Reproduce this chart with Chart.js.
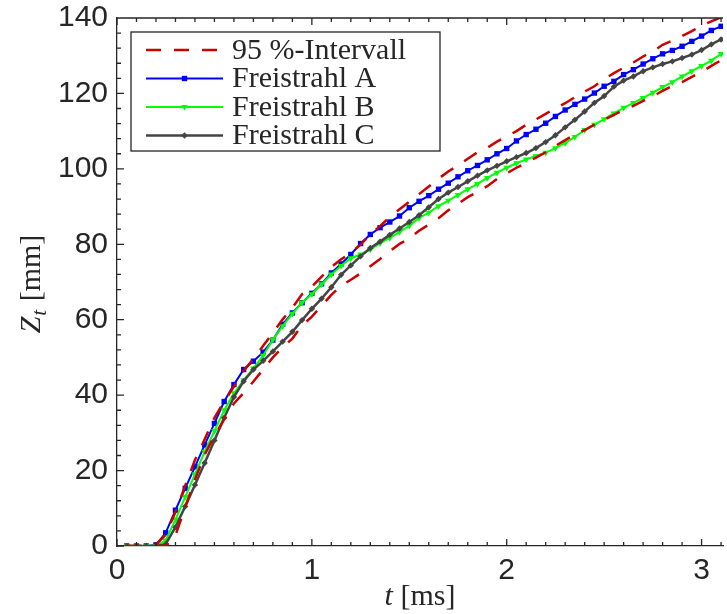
<!DOCTYPE html>
<html>
<head>
<meta charset="utf-8">
<script src="https://cdn.jsdelivr.net/npm/chart.js@4.4.1/dist/chart.umd.min.js"></script>
<style>
  html, body { margin: 0; padding: 0; background: #fff; }
  #wrap { width: 727px; height: 614px; }
</style>
</head>
<body>
<div id="wrap"><canvas id="chart"></canvas></div>
<script>
// time axis in ms
const times = [
  0.05, 0.10, 0.15, 0.20, 0.25, 0.30, 0.35, 0.40, 0.45, 0.50,
  0.55, 0.60, 0.65, 0.70, 0.75, 0.80, 0.85, 0.90, 0.95, 1.00,
  1.05, 1.10, 1.15, 1.20, 1.25, 1.30, 1.35, 1.40, 1.45, 1.50,
  1.55, 1.60, 1.65, 1.70, 1.75, 1.80, 1.85, 1.90, 1.95, 2.00,
  2.05, 2.10, 2.15, 2.20, 2.25, 2.30, 2.35, 2.40, 2.45, 2.50,
  2.55, 2.60, 2.65, 2.70, 2.75, 2.80, 2.85, 2.90, 2.95, 3.00,
  3.05, 3.10, 3.15
]

// penetration depth Z_t in mm
const freistrahlA = [
  0, 0, 0, 0.3, 3.5, 9.5, 15.3, 21, 26.8, 32.5,
  38.3, 42.8, 46.8, 49, 51.4, 54.6, 58.8, 61.8, 64.5, 67,
  69.5, 72.4, 74.8, 77.3, 80.2, 82.6, 84.4, 85.9, 87.5, 89.7,
  91.4, 92.9, 94.6, 96.2, 97.9, 99.5, 100.9, 102.4, 104, 105.4,
  107.4, 109.1, 110.5, 112.1, 113.9, 115.6, 117.1, 118.5, 120.1, 121.9,
  123.2, 125, 126.3, 127.8, 129.2, 130.5, 131.4, 132.5, 133.8, 135.2,
  136.7, 137.8, 139
]
const freistrahlB = [
  0, 0, 0, 0, 1.5, 7, 13, 19, 25, 30.5,
  36, 40.5, 44, 47.1, 50.5, 54.7, 58.3, 61.6, 64.6, 66.8,
  69.4, 72, 74.3, 76.3, 77.3, 78.6, 80.3, 81.7, 83.3, 84.9,
  87, 88.4, 90.1, 91.6, 93.1, 94.6, 96, 97.6, 99, 100.3,
  101.5, 102.5, 103.4, 104.3, 105.5, 106.9, 108.5, 110.3, 111.7, 113.2,
  114.7, 116.2, 117.5, 118.8, 120.2, 121.7, 123, 124.5, 125.9, 127.3,
  128.7, 130.5, 132
]
const freistrahlC = [
  0, 0, 0, 0, 0.5, 5, 10.5, 16.2, 22, 28,
  34, 39.5, 43.7, 46.8, 49.1, 51.6, 54.2, 56.8, 59.9, 62.9,
  65.6, 68.6, 71.9, 74.4, 76.8, 79, 80.7, 82.5, 84.2, 85.9,
  87.7, 89.8, 92, 93.7, 95.2, 96.7, 98.2, 99.6, 100.8, 102,
  103.1, 104.2, 105.5, 107.1, 108.9, 111, 113, 115.2, 117.5, 119.3,
  121.8, 123.4, 124.5, 125.9, 126.9, 127.8, 128.5, 129.4, 130.3, 131.5,
  133, 134.3, 135.5
]
const intervalUpper = [
  0, 0, 0, 0.3, 3, 9, 16, 22.8, 28.3, 34,
  38.3, 42.3, 46.5, 49.6, 53.1, 56.5, 60.1, 63.2, 66.8, 68.8,
  71.4, 74, 76, 77.7, 79.9, 82.6, 84.8, 87.2, 89.3, 91.3,
  93.3, 95.3, 97.4, 99.3, 100.9, 102.7, 104.4, 105.6, 107.2, 108.6,
  110, 111.7, 113.1, 114.6, 116.1, 117.4, 119, 120.5, 121.9, 123.8,
  125.4, 126.8, 128.2, 129.8, 131.1, 132.9, 134, 135.2, 136.5, 138,
  139.1, 140.2, 141.3
]
const intervalLower = [
  0, 0, 0, 0, 0, 2.8, 10.3, 17.6, 24.2, 29.2,
  33.6, 37.8, 40.6, 43.6, 46.8, 50, 52.7, 55, 58.5, 60.8,
  63.7, 66.6, 69, 70.6, 72.3, 74.2, 76.1, 78.2, 80.1, 81.5,
  83.6, 85.2, 86.9, 89, 90.7, 92.5, 93.9, 95.4, 97.3, 98.8,
  100.3, 101.6, 103, 104.4, 106.1, 107.6, 109.1, 110.3, 111.7, 113,
  114.3, 115.6, 116.7, 118, 119.2, 120.7, 122, 123, 124.4, 125.7,
  127.3, 128.8, 130.2
]

const legendLabels = ['95 %-Intervall', 'Freistrahl A', 'Freistrahl B', 'Freistrahl C']
const xMin = 0, xMax = 3.11, xStep = 1, xMinor = 0.1
const yMin = 0, yMax = 140, yStep = 20, yMinor = 4

const axisColor = '#262626'
const sansFont = '"Liberation Sans", Arial, sans-serif'
const serifFont = '"Liberation Serif", "Times New Roman", serif'

const pts = (vals) => times.map((t, i) => ({ x: t, y: vals[i] }))

const redStyle = {
  borderColor: '#cc0000',
  borderWidth: 2.5,
  borderDash: [15, 13],
  pointRadius: 0,
  order: 0
}

const datasets = [
  { label: legendLabels[0], data: pts(intervalUpper), ...redStyle },
  { label: legendLabels[0] + ' ', data: pts(intervalLower), ...redStyle },
  {
    label: legendLabels[1], data: pts(freistrahlA),
    borderColor: '#0000ff', backgroundColor: '#0000ff', borderWidth: 2,
    pointStyle: 'rect', pointRadius: 3.8, pointBorderWidth: 0, order: 3
  },
  {
    label: legendLabels[2], data: pts(freistrahlB),
    borderColor: '#00ff00', backgroundColor: '#00ff00', borderWidth: 2,
    pointStyle: 'triangle', pointRotation: 180, pointRadius: 3.8, pointBorderWidth: 0, order: 2
  },
  {
    label: legendLabels[3], data: pts(freistrahlC),
    borderColor: '#444444', backgroundColor: '#444444', borderWidth: 2.5,
    pointStyle: 'rectRot', pointRadius: 3.2, pointBorderWidth: 0, order: 1
  }
]

// inward ticks, top frame line, boxed legend
const frame = {
  id: 'frame',
  afterDatasetsDraw(chart) {
    const { ctx, chartArea: a, scales: { x, y } } = chart
    ctx.save()
    ctx.strokeStyle = axisColor
    ctx.lineWidth = 1.3
    ctx.beginPath()
    ctx.moveTo(a.left, a.top)
    ctx.lineTo(a.right, a.top)
    for (let i = 0; i * xMinor <= xMax + 1e-9; i++) {
      const px = x.getPixelForValue(i * xMinor)
      const len = i % 10 === 0 ? 7 : 4
      ctx.moveTo(px, a.bottom)
      ctx.lineTo(px, a.bottom - len)
      ctx.moveTo(px, a.top)
      ctx.lineTo(px, a.top + len)
    }
    for (let i = 0; i * yMinor <= yMax + 1e-9; i++) {
      const py = y.getPixelForValue(i * yMinor)
      const len = (i * yMinor) % yStep === 0 ? 7 : 4
      ctx.moveTo(a.left, py)
      ctx.lineTo(a.left + len, py)
    }
    ctx.stroke()

    // legend
    const bx = a.left + 14, by = a.top + 14, bw = 309, bh = 119
    ctx.fillStyle = '#fff'
    ctx.fillRect(bx, by, bw, bh)
    ctx.lineWidth = 1.3
    ctx.strokeStyle = axisColor
    ctx.strokeRect(bx, by, bw, bh)
    const rows = [0, 2, 3, 4]
    ctx.font = '30px ' + serifFont
    ctx.textBaseline = 'middle'
    rows.forEach((di, r) => {
      const ds = chart.data.datasets[di]
      const ly = by + 18 + r * 28.5
      const x0 = bx + 15, x1 = bx + 92
      ctx.save()
      ctx.strokeStyle = ds.borderColor
      ctx.lineWidth = ds.borderWidth
      ctx.setLineDash(ds.borderDash || [])
      ctx.beginPath()
      ctx.moveTo(x0, ly)
      ctx.lineTo(x1, ly)
      ctx.stroke()
      ctx.restore()
      if (ds.pointRadius) {
        ctx.fillStyle = ds.backgroundColor
        Chart.helpers.drawPoint(ctx, {
          pointStyle: ds.pointStyle,
          rotation: ds.pointRotation || 0,
          radius: ds.pointRadius,
          borderWidth: 0
        }, (x0 + x1) / 2, ly)
      }
      ctx.fillStyle = axisColor
      ctx.textAlign = 'left'
      ctx.fillText(legendLabels[r], bx + 101, ly + 1)
    })
    ctx.restore()
  },
  afterDraw(chart) {
    const { ctx, chartArea: a } = chart
    ctx.save()
    ctx.fillStyle = axisColor
    ctx.textBaseline = 'alphabetic'

    // x title: t [ms]
    const it = 'italic 30px ' + serifFont
    const rm = '30px ' + serifFont
    ctx.font = it
    const wt = ctx.measureText('t').width
    ctx.font = rm
    const wr = ctx.measureText(' [ms]').width
    let sx = (a.left + a.right) / 2 - (wt + wr) / 2
    ctx.textAlign = 'left'
    ctx.font = it
    ctx.fillText('t', sx, 605)
    ctx.font = rm
    ctx.fillText(' [ms]', sx + wt, 605)

    // y title: Z_t [mm]
    ctx.translate(40, (a.top + a.bottom) / 2 + 2)
    ctx.rotate(-Math.PI / 2)
    const sub = 'italic 21px ' + serifFont
    ctx.font = it
    const wz = ctx.measureText('Z').width
    ctx.font = sub
    const ws = ctx.measureText('t').width
    ctx.font = rm
    const wm = ctx.measureText(' [mm]').width
    sx = -(wz + ws + 2 + wm) / 2
    ctx.font = it
    ctx.fillText('Z', sx, 0)
    ctx.font = sub
    ctx.fillText('t', sx + wz + 1, 6)
    ctx.font = rm
    ctx.fillText(' [mm]', sx + wz + ws + 2, 0)
    ctx.restore()
  }
}

new Chart(document.getElementById('chart'), {
  type: 'line',
  data: { datasets },
  options: {
    responsive: true,
    maintainAspectRatio: false,
    animation: false,
    events: [],
    layout: { padding: { top: 18, right: 0, left: 0, bottom: 0 } },
    elements: { line: { tension: 0 } },
    plugins: {
      legend: { display: false },
      tooltip: { enabled: false }
    },
    scales: {
      x: {
        type: 'linear',
        min: xMin,
        max: xMax,
        grid: { display: false, drawTicks: false },
        border: { display: true, color: axisColor, width: 1.3 },
        ticks: {
          stepSize: xStep,
          includeBounds: false,
          padding: 7,
          color: axisColor,
          font: { family: sansFont, size: 30 },
          maxRotation: 0
        },
        afterFit(scale) {
          scale.height = 68
          scale.paddingLeft = 0
          scale.paddingRight = 0
        }
      },
      y: {
        type: 'linear',
        min: yMin,
        max: yMax,
        grid: { display: false, drawTicks: false },
        border: { display: true, color: axisColor, width: 1.3 },
        ticks: {
          stepSize: yStep,
          padding: 9,
          color: axisColor,
          font: { family: sansFont, size: 30 }
        },
        afterFit(scale) {
          scale.width = 117
          scale.paddingTop = 0
          scale.paddingBottom = 0
        }
      }
    }
  },
  plugins: [frame]
})
</script>
</body>
</html>
